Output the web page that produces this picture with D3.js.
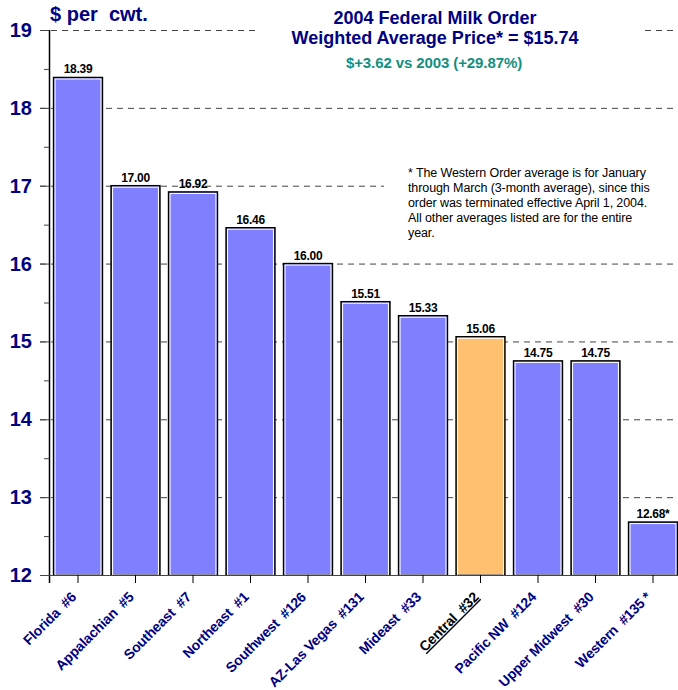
<!DOCTYPE html>
<html>
<head>
<meta charset="utf-8">
<script src="https://cdn.jsdelivr.net/npm/d3@7"></script>
<style>
  body { margin: 0; background: #fff; }
  svg { display: block; font-family: "Liberation Sans", Arial, sans-serif; }
  text { white-space: pre; }
</style>
</head>
<body>
<div id="chart"></div>
<script>
// data
var categories = ["Florida  #6", "Appalachian  #5", "Southeast  #7", "Northeast  #1",
  "Southwest  #126", "AZ-Las Vegas  #131", "Mideast  #33", "Central  #32",
  "Pacific NW  #124", "Upper Midwest  #30", "Western  #135 *"];
var prices = [18.39, 17.00, 16.92, 16.46, 16.00, 15.51, 15.33, 15.06, 14.75, 14.75, 12.68];
var priceLabels = ["18.39", "17.00", "16.92", "16.46", "16.00", "15.51", "15.33", "15.06", "14.75", "14.75", "12.68*"];
var highlight = "Central  #32";
var yTicks = [12, 13, 14, 15, 16, 17, 18, 19];
var yMinorTicks = [12.5, 13.5, 14.5, 15.5, 16.5, 17.5, 18.5];
var titleLines = ["2004 Federal Milk Order", "Weighted Average Price* = $15.74"];
var subTitle = "$+3.62 vs 2003 (+29.87%)";
var footnote = ["* The Western Order average is for January",
  "through March (3-month average), since this",
  "order was terminated effective April 1, 2004.",
  "All other averages listed are for the entire",
  "year."];

var width = 678, height = 690;
var navy = "#000080";

var svg = d3.select("#chart").append("svg")
  .attr("width", width)
  .attr("height", height);

var x = d3.scaleBand()
  .domain(categories)
  .range([49.25, 681.75])
  .paddingInner(0.15)
  .paddingOuter(0.075);

var y = d3.scaleLinear()
  .domain([12, 19])
  .range([575, 30]);

// gridlines
svg.append("g").attr("class", "grid")
  .selectAll("line")
  .data(yTicks.slice(1))
  .enter().append("line")
    .attr("x1", 40)
    .attr("x2", width)
    .attr("y1", function(d) { return y(d) + 0.5; })
    .attr("y2", function(d) { return y(d) + 0.5; })
    .attr("stroke", "#444")
    .attr("stroke-width", 1)
    .attr("stroke-dasharray", "6,5");

// white boxes behind title and footnote
svg.append("rect").attr("x", 256).attr("y", 0).attr("width", 386).attr("height", 80).attr("fill", "#fff");
svg.append("rect").attr("x", 384).attr("y", 160).attr("width", 294).attr("height", 86).attr("fill", "#fff");

// bars
var bars = svg.append("g").attr("class", "bars")
  .selectAll("g")
  .data(categories)
  .enter().append("g");

bars.append("rect")
  .attr("x", function(d) { return x(d); })
  .attr("y", function(d, i) { return y(prices[i]); })
  .attr("width", x.bandwidth())
  .attr("height", function(d, i) { return y(12) - y(prices[i]); })
  .attr("fill", function(d) { return d === highlight ? "#FFC06F" : "#8080FF"; })
  .attr("stroke", "#000")
  .attr("stroke-width", 1.5);

bars.append("rect")
  .attr("x", function(d) { return x(d) + 1.5; })
  .attr("y", function(d, i) { return y(prices[i]) + 1.5; })
  .attr("width", x.bandwidth() - 3)
  .attr("height", function(d, i) { return y(12) - y(prices[i]) - 1.5; })
  .attr("fill", "none")
  .attr("stroke", "#fff")
  .attr("stroke-width", 1);

bars.append("text")
  .attr("x", function(d) { return x(d) + x.bandwidth() / 2; })
  .attr("y", function(d, i) { return y(prices[i]) - 4; })
  .attr("text-anchor", "middle")
  .attr("font-size", 12)
  .attr("font-weight", "bold")
  .attr("letter-spacing", -0.3)
  .attr("fill", "#000")
  .text(function(d, i) { return priceLabels[i]; });

// y axis
var yAxis = svg.append("g").attr("class", "y axis");
yAxis.append("line")
  .attr("x1", 49.5).attr("x2", 49.5)
  .attr("y1", y(19)).attr("y2", y(12) + 8)
  .attr("stroke", "#000").attr("stroke-width", 1.5);
yAxis.selectAll(".major")
  .data(yTicks)
  .enter().append("line")
    .attr("class", "major")
    .attr("x1", 40).attr("x2", 49)
    .attr("y1", function(d) { return y(d) + 0.5; })
    .attr("y2", function(d) { return y(d) + 0.5; })
    .attr("stroke", "#444");
yAxis.selectAll(".minor")
  .data(yMinorTicks)
  .enter().append("line")
    .attr("class", "minor")
    .attr("x1", 44).attr("x2", 49)
    .attr("y1", function(d) { return y(d) + 0.5; })
    .attr("y2", function(d) { return y(d) + 0.5; })
    .attr("stroke", "#444");
yAxis.selectAll("text")
  .data(yTicks)
  .enter().append("text")
    .attr("x", 32)
    .attr("y", function(d) { return y(d) + 7; })
    .attr("text-anchor", "end")
    .attr("font-size", 20)
    .attr("font-weight", "bold")
    .attr("fill", navy)
    .text(function(d) { return d; });

// x axis
var xAxis = svg.append("g").attr("class", "x axis");
xAxis.append("line")
  .attr("x1", 40).attr("x2", width)
  .attr("y1", y(12) + 0.5).attr("y2", y(12) + 0.5)
  .attr("stroke", "#444");
xAxis.selectAll(".tick")
  .data(categories)
  .enter().append("line")
    .attr("class", "tick")
    .attr("x1", function(d) { return x(d) + x.bandwidth() / 2; })
    .attr("x2", function(d) { return x(d) + x.bandwidth() / 2; })
    .attr("y1", y(12))
    .attr("y2", y(12) + 8)
    .attr("stroke", "#000");
xAxis.selectAll("text")
  .data(categories)
  .enter().append("text")
    .attr("transform", function(d) {
      return "translate(" + (x(d) + x.bandwidth() / 2 - 1) + "," + 598 + ") rotate(-45)";
    })
    .attr("text-anchor", "end")
    .attr("font-size", 14)
    .attr("font-weight", "bold")
    .attr("letter-spacing", -0.2)
    .attr("fill", function(d) { return d === highlight ? "#000" : navy; })
    .attr("text-decoration", function(d) { return d === highlight ? "underline" : null; })
    .text(function(d) { return d; });

// titles
svg.append("text")
  .attr("x", 50).attr("y", 21)
  .attr("font-size", 20)
  .attr("font-weight", "bold")
  .attr("fill", navy)
  .text("$ per  cwt.");

svg.selectAll(".title")
  .data(titleLines)
  .enter().append("text")
    .attr("class", "title")
    .attr("x", 435)
    .attr("y", function(d, i) { return 24 + i * 20; })
    .attr("text-anchor", "middle")
    .attr("font-size", 18)
    .attr("font-weight", "bold")
    .attr("fill", navy)
    .text(function(d) { return d; });

svg.append("text")
  .attr("x", 434).attr("y", 68)
  .attr("text-anchor", "middle")
  .attr("font-size", 15)
  .attr("font-weight", "bold")
  .attr("letter-spacing", -0.1)
  .attr("fill", "#11907F")
  .text(subTitle);

svg.selectAll(".note")
  .data(footnote)
  .enter().append("text")
    .attr("class", "note")
    .attr("x", 408)
    .attr("y", function(d, i) { return 177 + i * 15; })
    .attr("font-size", 12.5)
    .attr("letter-spacing", -0.1)
    .attr("fill", "#000")
    .text(function(d) { return d; });
</script>
</body>
</html>
